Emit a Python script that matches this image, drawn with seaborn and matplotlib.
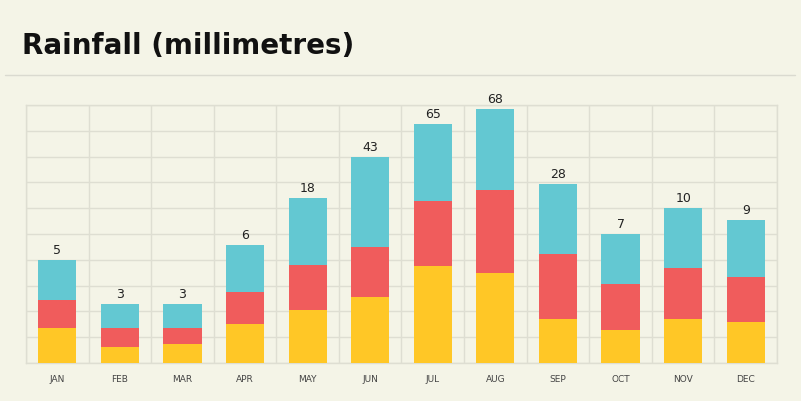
import matplotlib
matplotlib.use("Agg")
import matplotlib.pyplot as plt
import seaborn as sns
import numpy as np
import pandas as pd

months = ["JAN", "FEB", "MAR", "APR", "MAY", "JUN", "JUL", "AUG", "SEP", "OCT", "NOV", "DEC"]
yellow = [1.36, 0.62, 0.74, 1.50, 2.07, 2.54, 3.75, 3.50, 1.70, 1.28, 1.70, 1.59]
red = [1.08, 0.74, 0.62, 1.24, 1.74, 1.96, 2.54, 3.19, 2.52, 1.78, 1.98, 1.74]
teal = [1.56, 0.93, 0.93, 1.85, 2.60, 3.50, 2.97, 3.15, 2.71, 1.94, 2.32, 2.21]
labels = ["5", "3", "3", "6", "18", "43", "65", "68", "28", "7", "10", "9"]

bg = "#F4F4E7"
grid_c = "#DEDED2"
c_yellow = "#FFC726"
c_red = "#F05C5C"
c_teal = "#63C8D2"

df = pd.DataFrame({"month": months, "yellow": yellow, "red": red, "teal": teal})
df["lvl1"] = df["yellow"]
df["lvl2"] = df["yellow"] + df["red"]
df["lvl3"] = df["lvl2"] + df["teal"]

sns.set_theme(style="white")
plt.rcParams["font.family"] = ["DejaVu Sans"]

fig = plt.figure(figsize=(8.01, 4.01), dpi=100, facecolor=bg)
ax = fig.add_axes([26 / 801, (401 - 363) / 401, (777 - 26) / 801, (363 - 105) / 401])
ax.set_facecolor(bg)

w = 0.61
sns.barplot(data=df, x="month", y="lvl3", color=c_teal, width=w, saturation=1, ax=ax, zorder=3)
sns.barplot(data=df, x="month", y="lvl2", color=c_red, width=w, saturation=1, ax=ax, zorder=3)
sns.barplot(data=df, x="month", y="lvl1", color=c_yellow, width=w, saturation=1, ax=ax, zorder=3)
for p in ax.patches:
    p.set_linewidth(0)

ax.bar_label(ax.containers[0], labels=labels, padding=2, fontsize=9, color="#222222")

ax.set_xlim(-0.5, 11.5)
ax.set_ylim(0, 10)
ax.set_yticks(np.arange(0, 11, 1))
ax.set_yticklabels([])
ax.set_xticks(np.arange(-0.5, 12, 1), minor=True)
ax.grid(True, which="minor", axis="x", color=grid_c, linewidth=1, zorder=0)
ax.grid(True, which="major", axis="y", color=grid_c, linewidth=1, zorder=0)
ax.tick_params(axis="x", which="both", length=0, pad=9, labelsize=6.5, labelcolor="#444444")
ax.tick_params(axis="y", length=0)
ax.set_xlabel("")
ax.set_ylabel("")
for s in ax.spines.values():
    s.set_color(grid_c)
    s.set_linewidth(1)

fig.text(22 / 801, 1 - 46 / 401, "Rainfall (millimetres)", fontsize=20, fontweight="bold",
         color="#111111", va="center", ha="left")
fig.add_artist(plt.Line2D([5 / 801, 795 / 801], [1 - 75 / 401, 1 - 75 / 401],
                          color="#DADAD0", linewidth=1))

fig.savefig("out.png", dpi=100, facecolor=bg)
